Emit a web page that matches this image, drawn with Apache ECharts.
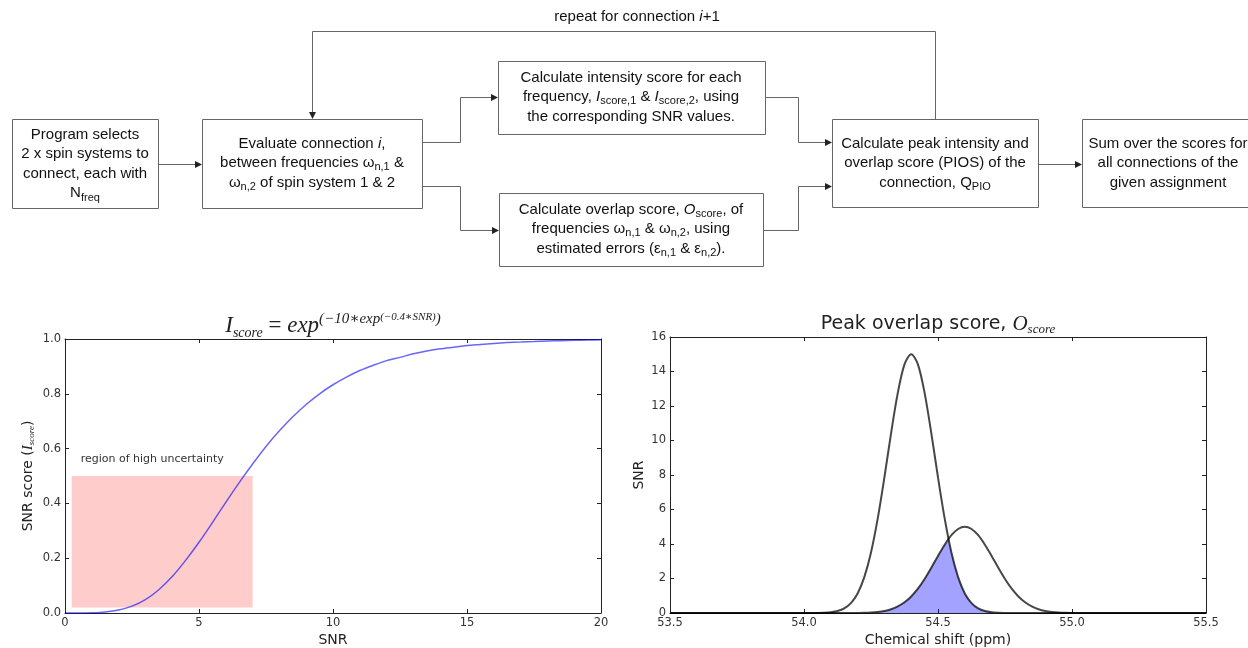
<!DOCTYPE html>
<html>
<head>
<meta charset="utf-8">
<script src="https://cdn.jsdelivr.net/npm/echarts@6/dist/echarts.min.js"></script>
<style>
html,body{margin:0;padding:0;background:#fff}
#chart{width:1248px;height:648px}
</style>
</head>
<body>
<div id="chart"></div>
<script>
// left panel: SNR score curve
var snrX = [0,0.5,1,1.5,2,2.5,3,3.5,4,4.5,5,5.5,6,6.5,7,7.5,8,8.5,9,9.5,10,10.5,11,11.5,12,12.5,13,13.5,14,14.5,15,15.5,16,16.5,17,17.5,18,18.5,19,19.5,20];
var snrScore = [0.000,0.000,0.001,0.004,0.011,0.025,0.049,0.085,0.133,0.192,0.258,0.330,0.404,0.476,0.544,0.608,0.665,0.716,0.761,0.800,0.833,0.861,0.885,0.904,0.921,0.933,0.946,0.956,0.964,0.970,0.976,0.980,0.984,0.987,0.989,0.991,0.993,0.994,0.995,0.996,0.997];
var regionX = [0.25, 7];
var regionY = [0.02, 0.5];

// right panel: two peaks and their overlap
var shiftX = [53.5,53.95,53.975,54.0,54.025,54.05,54.075,54.1,54.125,54.15,54.175,54.2,54.225,54.25,54.275,54.3,54.325,54.35,54.375,54.4,54.425,54.45,54.475,54.5,54.525,54.55,54.575,54.6,54.625,54.65,54.675,54.7,54.725,54.75,54.775,54.8,54.825,54.85,54.875,54.9,54.925,54.95,54.975,55.0,55.025,55.05,55.5];
var peak1 = [0,0,0,0,0.002,0.006,0.016,0.045,0.114,0.265,0.57,1.13,2.08,3.51,5.47,7.86,10.43,12.76,14.41,15.0,14.41,12.76,10.43,7.86,5.47,3.51,2.08,1.13,0.57,0.265,0.114,0.045,0.016,0.006,0.002,0,0,0,0,0,0,0,0,0,0,0,0];
var peak2 = [0,0,0,0,0,0,0,0,0,0.001,0.003,0.007,0.015,0.032,0.064,0.12,0.22,0.38,0.62,0.96,1.41,1.97,2.62,3.31,3.96,4.51,4.87,5.0,4.87,4.51,3.96,3.31,2.62,1.97,1.41,0.96,0.62,0.38,0.22,0.12,0.064,0.032,0.015,0.007,0.003,0.001,0];
var overlapX = [54.125,54.15,54.175,54.2,54.225,54.25,54.275,54.3,54.325,54.35,54.375,54.4,54.425,54.45,54.475,54.5,54.525,54.541,54.55,54.575,54.6,54.625,54.65,54.675,54.7,54.725,54.75,54.775,54.8];
var overlapY = [0,0.001,0.003,0.007,0.015,0.032,0.064,0.12,0.22,0.38,0.62,0.96,1.41,1.97,2.62,3.31,3.96,4.22,3.51,2.08,1.13,0.57,0.265,0.114,0.045,0.016,0.006,0.002,0];

var sans = '"Liberation Sans", Arial, sans-serif';
var dv = '"DejaVu Sans", sans-serif';
var serif = '"Liberation Serif", "DejaVu Serif", serif';
var frame = '#222';

function pairs(xs, ys) {
  return xs.map(function (x, i) { return [x, ys[i]]; });
}

function axis(grid, pos, min, max, step, digits, name, gap) {
  var a = {
    type: 'value', gridIndex: grid, position: pos, min: min, max: max, interval: step,
    axisLine: {show: true, onZero: false, lineStyle: {color: frame, width: 1}},
    axisTick: {show: true, inside: true, length: 4, lineStyle: {color: frame}},
    axisLabel: {
      show: pos === 'bottom' || pos === 'left', margin: 4, color: '#333', fontSize: 11.5, fontFamily: dv,
      formatter: function (v) { return v.toFixed(digits); }
    },
    splitLine: {show: false}
  };
  if (name) {
    a.name = name;
    a.nameLocation = 'middle';
    a.nameGap = gap;
    a.nameTextStyle = {
      fontSize: 14, fontFamily: dv, color: '#222', fontWeight: 'normal',
      rich: {
        a: {fontSize: 14, fontFamily: dv, color: '#222'},
        i: {fontSize: 15, fontFamily: serif, fontStyle: 'italic', color: '#222'},
        s: {fontSize: 9, fontFamily: serif, fontStyle: 'italic', color: '#222', verticalAlign: 'bottom'}
      }
    };
  }
  return a;
}

// flowchart pieces
var boxRich = {
  s: {fontSize: 11, fontFamily: sans, verticalAlign: 'bottom'},
  i: {fontSize: 15, fontFamily: sans, fontStyle: 'italic'}
};
function box(x, y, w, h) {
  return {type: 'rect', shape: {x: x + 0.5, y: y + 0.5, width: w, height: h},
    style: {fill: '#fff', stroke: '#666', lineWidth: 1}, z: 1};
}
function label(cx, cy, lines) {
  return {type: 'text', x: cx, y: cy, z: 2,
    style: {text: lines.join('\n'), align: 'center', verticalAlign: 'middle',
      fontSize: 15, fontFamily: sans, lineHeight: 19.5, fill: '#111', rich: boxRich}};
}
function wire(points) {
  return {type: 'polyline', shape: {points: points}, style: {stroke: '#666', lineWidth: 1, fill: null}, z: 1};
}
function headRight(x, y) {
  return {type: 'polygon', shape: {points: [[x, y], [x - 7, y - 3.5], [x - 7, y + 3.5]]}, style: {fill: '#222'}, z: 2};
}
function headDown(x, y) {
  return {type: 'polygon', shape: {points: [[x, y], [x - 3.5, y - 7], [x + 3.5, y - 7]]}, style: {fill: '#222'}, z: 2};
}

var flow = [
  wire([[935.5, 119], [935.5, 31.5], [312.5, 31.5], [312.5, 113]]), headDown(312.5, 119),
  label(637, 17, ['repeat for connection {i|i}+1']),
  wire([[158, 164.5], [196, 164.5]]), headRight(202, 164.5),
  wire([[422, 142.5], [460.5, 142.5], [460.5, 97.5], [492, 97.5]]), headRight(498, 97.5),
  wire([[422, 186.5], [460.5, 186.5], [460.5, 230.5], [493, 230.5]]), headRight(499, 230.5),
  wire([[765, 97.5], [798.5, 97.5], [798.5, 142.5], [826, 142.5]]), headRight(832, 142.5),
  wire([[763, 230.5], [798.5, 230.5], [798.5, 186.5], [826, 186.5]]), headRight(832, 186.5),
  wire([[1038, 164.5], [1076, 164.5]]), headRight(1082, 164.5),
  box(12, 119, 146, 89), label(85, 164, ['Program selects', '2 x spin systems to', 'connect, each with', 'N{s|freq}']),
  box(202, 119, 220, 89), label(312, 163, ['Evaluate connection {i|i},', 'between frequencies ω{s|n,1} &', 'ω{s|n,2} of spin system 1 & 2']),
  box(498, 61, 267, 73), label(631, 97, ['Calculate intensity score for each', 'frequency, {i|I}{s|score,1} & {i|I}{s|score,2}, using', 'the corresponding SNR values.']),
  box(499, 193, 264, 73), label(631, 229, ['Calculate overlap score, {i|O}{s|score}, of', 'frequencies ω{s|n,1} & ω{s|n,2}, using', 'estimated errors (ε{s|n,1} & ε{s|n,2}).']),
  box(832, 119, 206, 88), label(935, 163, ['Calculate peak intensity and', 'overlap score (PIOS) of the', 'connection, Q{s|PIO}']),
  box(1082, 119, 180, 88), label(1168, 163, ['Sum over the scores for', 'all connections of the', 'given assignment'])
];

var chart = echarts.init(document.getElementById('chart'));
chart.setOption({
  animation: false,
  backgroundColor: '#fff',
  title: [{
    left: 333, top: 312, textAlign: 'center', padding: 0,
    text: '{I|I}{sub|score}{m| = }{I|exp}{sup|(−10∗exp}{sup2|(−0.4∗SNR)}{sup|)}',
    textStyle: {
      lineHeight: 28, fontWeight: 'normal',
      rich: {
        I: {fontSize: 23, fontFamily: serif, fontStyle: 'italic', fontWeight: 'normal', color: '#222', lineHeight: 28},
        m: {fontSize: 23, fontFamily: serif, fontWeight: 'normal', color: '#222', lineHeight: 28},
        sub: {fontSize: 14, fontFamily: serif, fontStyle: 'italic', fontWeight: 'normal', color: '#222', verticalAlign: 'bottom'},
        sup: {fontSize: 15, fontFamily: serif, fontStyle: 'italic', fontWeight: 'normal', color: '#222', verticalAlign: 'top'},
        sup2: {fontSize: 11, fontFamily: serif, fontStyle: 'italic', fontWeight: 'normal', color: '#222', verticalAlign: 'top'}
      }
    }
  }, {
    left: 938, top: 312, textAlign: 'center', padding: 0,
    text: '{a|Peak overlap score, }{o|O}{os|score}',
    textStyle: {
      lineHeight: 24, fontWeight: 'normal',
      rich: {
        a: {fontSize: 19, fontFamily: dv, fontWeight: 'normal', color: '#222', lineHeight: 24},
        o: {fontSize: 21, fontFamily: serif, fontStyle: 'italic', fontWeight: 'normal', color: '#222', lineHeight: 24},
        os: {fontSize: 13, fontFamily: serif, fontStyle: 'italic', fontWeight: 'normal', color: '#222', verticalAlign: 'bottom'}
      }
    }
  }],
  grid: [
    {left: 65, top: 339, width: 536, height: 277},
    {left: 670, top: 337, width: 536, height: 277}
  ],
  xAxis: [
    axis(0, 'bottom', 0, 20, 5, 0, 'SNR', 20),
    axis(0, 'top', 0, 20, 5, 0),
    axis(1, 'bottom', 53.5, 55.5, 0.5, 1, 'Chemical shift (ppm)', 20),
    axis(1, 'top', 53.5, 55.5, 0.5, 1)
  ],
  yAxis: [
    axis(0, 'left', 0, 1, 0.2, 1, '{a|SNR score (}{i|I}{s|score}{a|)}', 29),
    axis(0, 'right', 0, 1, 0.2, 1),
    axis(1, 'left', 0, 16, 2, 0, 'SNR', 24),
    axis(1, 'right', 0, 16, 2, 0)
  ],
  series: [{
    type: 'line', xAxisIndex: 0, yAxisIndex: 0, silent: true,
    data: pairs(snrX, snrScore), showSymbol: false, smooth: 0.3,
    lineStyle: {color: 'rgba(0,0,255,0.6)', width: 1.5},
    markArea: {
      silent: true,
      itemStyle: {color: 'rgba(255,0,0,0.2)', borderWidth: 0},
      label: {show: true, position: 'insideTopLeft', distance: 5, offset: [4, -27],
        color: '#333', fontSize: 11, fontFamily: dv},
      data: [[{name: 'region of high uncertainty', coord: [regionX[0], regionY[0]]},
              {coord: [regionX[1], regionY[1]]}]]
    }
  }, {
    type: 'line', xAxisIndex: 2, yAxisIndex: 2, silent: true, z: 1,
    data: pairs(overlapX, overlapY), showSymbol: false,
    lineStyle: {width: 0, opacity: 0},
    areaStyle: {color: 'rgba(0,0,255,0.36)', opacity: 1}
  }, {
    type: 'line', xAxisIndex: 2, yAxisIndex: 2, silent: true, z: 3,
    data: pairs(shiftX, peak1), showSymbol: false, smooth: 0.3,
    lineStyle: {color: 'rgba(0,0,0,0.72)', width: 2}
  }, {
    type: 'line', xAxisIndex: 2, yAxisIndex: 2, silent: true, z: 3,
    data: pairs(shiftX, peak2), showSymbol: false, smooth: 0.3,
    lineStyle: {color: 'rgba(0,0,0,0.72)', width: 2}
  }],
  graphic: flow
});
</script>
</body>
</html>
